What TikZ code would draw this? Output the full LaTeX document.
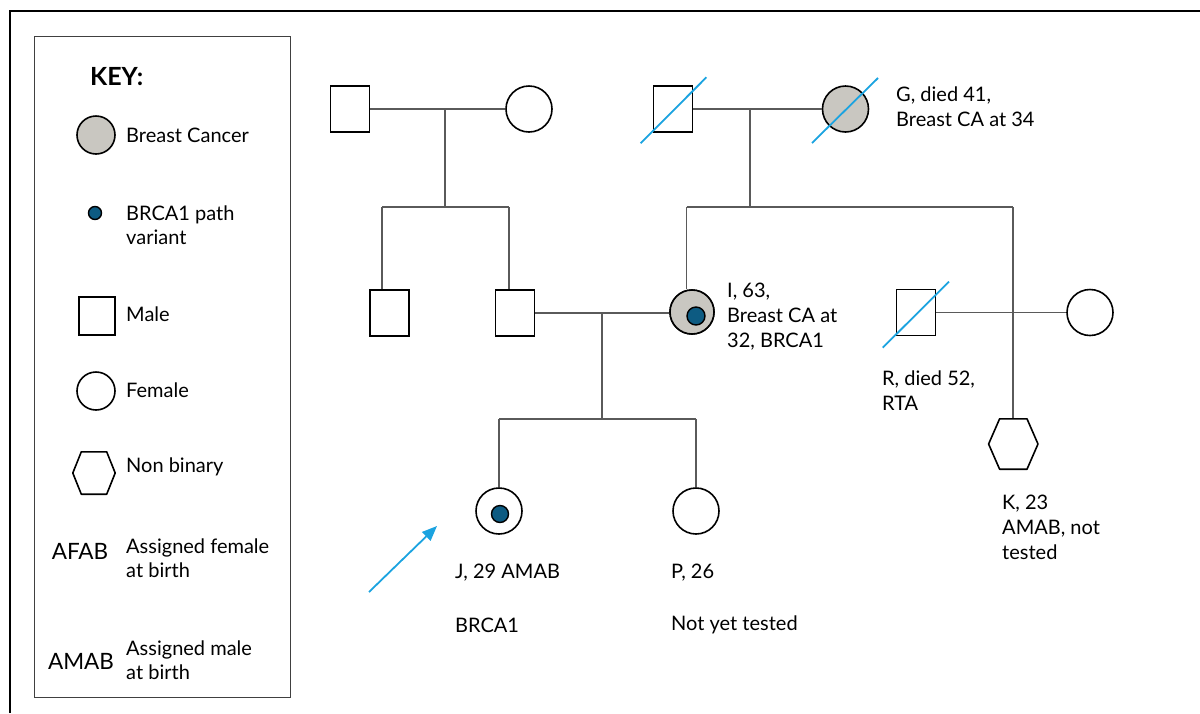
\documentclass[tikz,border=0pt]{standalone}
\usepackage{fontspec}
\setmainfont{Lato}
\usetikzlibrary{arrows.meta,calc}
\definecolor{cagrey}{HTML}{C9C7C1}
\definecolor{dotblue}{HTML}{0D5B82}
\definecolor{slashblue}{HTML}{1BA3E0}
\definecolor{linegrey}{HTML}{5A5A5A}
\tikzset{
  male/.style={draw=black,line width=1.6pt,rectangle,minimum width=39pt,minimum height=46pt,inner sep=0pt,fill=white},
  female/.style={draw=black,line width=1.6pt,circle,minimum size=46pt,inner sep=0pt,fill=white},
  affected/.style={fill=cagrey},
  brcadot/.style={draw=black,line width=1.4pt,circle,fill=dotblue,minimum size=#1,inner sep=0pt},
  hexbox/.style={rectangle,minimum width=#1,minimum height=#1,inner sep=0pt},
  hexline/.style={draw=black,line width=1.6pt,line join=round},
  conn/.style={draw=linegrey,line width=1.3pt},
  slash/.style={draw=slashblue,line width=1.8pt},
  lbl/.style={anchor=west,align=left,inner sep=0pt,font=\fontsize{20}{25}\selectfont},
  keylbl/.style={anchor=west,align=left,inner sep=0pt,font=\fontsize{20}{24.5}\selectfont},
  abbr/.style={anchor=center,inner sep=0pt,font=\fontsize{22.5}{26}\selectfont},
}
\begin{document}
\begin{tikzpicture}[x=1pt,y=-1pt]
\useasboundingbox (0,0) rectangle (1200,713);
% outer frame
\coordinate (fbl) at (10,713);
\coordinate (ftl) at (10,11);
\coordinate (ftr) at (1200,11);
\draw[line width=1.6pt] (fbl) -- (ftl) -- (ftr);

% ---------------- KEY ----------------
\node[draw=black!75,line width=1pt,rectangle,minimum width=256pt,minimum height=661pt,anchor=north west,inner sep=0pt] (keybox) at (34,36) {};
\node[anchor=west,inner sep=0pt,font=\fontsize{25}{28}\selectfont\bfseries] (keyt) at (90,77) {KEY:};
\node[female,affected,minimum size=38pt] (k1) at (96,135) {};
\node[keylbl] (k1t) at (126,135) {Breast Cancer};
\node[brcadot=13pt] (k2) at (95,213) {};
\node[keylbl] (k2t) at (126,225) {BRCA1 path\\variant};
\node[male,minimum width=36pt,minimum height=38pt] (k3) at (97,316) {};
\node[keylbl] (k3t) at (126,314) {Male};
\node[female,minimum size=38pt] (k4) at (96,391) {};
\node[keylbl] (k4t) at (126,390) {Female};
\node[hexbox=42pt] (k5) at (94,473) {};
\draw[hexline] (k5.west) -- ([xshift=8.5pt]k5.north west) -- ([xshift=-8.5pt]k5.north east) -- (k5.east) -- ([xshift=-8.5pt]k5.south east) -- ([xshift=8.5pt]k5.south west) -- cycle;
\node[keylbl] (k5t) at (126,467) {Non binary};
\node[abbr] (k6) at (80,551) {AFAB};
\node[keylbl] (k6t) at (126,558) {Assigned female\\at birth};
\node[abbr] (k7) at (81,661) {AMAB};
\node[keylbl] (k7t) at (126,660) {Assigned male\\at birth};

% ---------------- PEDIGREE ----------------
% Generation I
\node[male] (A) at (350,109) {};
\node[female] (B) at (529,109) {};
\node[male] (E) at (673,109) {};
\node[female,affected] (G) at (845.5,109) {};
% Generation II
\node[male] (C) at (389.5,313) {};
\node[male] (D) at (515,313) {};
\node[female,affected,minimum size=44pt] (I) at (692,312) {};
\node[brcadot=18pt] (Idot) at (696,316) {};
\node[male] (R) at (916,312.5) {};
\node[female] (S) at (1090,312.5) {};
% Generation III
\node[female] (J) at (499,511) {};
\node[brcadot=17pt] (Jdot) at (500,514) {};
\node[female] (P) at (696,511) {};
\node[hexbox=49pt,minimum height=50pt] (K) at (1013.3,444) {};

% coordinates for line junctions
\coordinate (m1) at (445,109);
\coordinate (s1) at (445,207);
\coordinate (s1l) at (382,207);
\coordinate (s1r) at (509,207);
\coordinate (m2) at (750,109);
\coordinate (s2) at (750,207);
\coordinate (s2l) at (686.5,207);
\coordinate (s2r) at (1013,207);
\coordinate (m3) at (602,313);
\coordinate (s3) at (602,419);
\coordinate (s3l) at (499,419);
\coordinate (s3r) at (696,419);
\coordinate (itop) at (686.5,289);

% marriage lines
\draw[conn] (A.east) -- (B.west);
\draw[conn] (E.east) -- (G.west);
\draw[conn] (D.east|-m3) -- (I.west|-m3);
\draw[conn] (R.east) -- (S.west);
% descent lines
\draw[conn] (m1) -- (s1);
\draw[conn] (s1l) -- (s1r);
\draw[conn] (s1l) -- (s1l|-C.north);
\draw[conn] (s1r) -- (s1r|-D.north);
\draw[conn] (m2) -- (s2);
\draw[conn] (s2l) -- (s2r);
\draw[conn] (s2l) -- (itop);
\draw[conn] (s2r) -- (K.north-|s2r);
\draw[conn] (m3) -- (s3);
\draw[conn] (s3l) -- (s3r);
\draw[conn] (s3l) -- (J.north);
\draw[conn] (s3r) -- (P.north);

% redraw shapes over lines
\node[female,affected,minimum size=44pt] at (I) {};
\node[brcadot=18pt] at (Idot) {};

% hexagon K
\draw[hexline,fill=white] (K.west) -- ([xshift=11pt]K.north west) -- ([xshift=-11pt]K.north east) -- (K.east) -- ([xshift=-11pt]K.south east) -- ([xshift=11pt]K.south west) -- cycle;

% deceased slashes
\coordinate (e1) at (640.6,143.3);
\coordinate (e2) at (706.4,77.3);
\draw[slash] (e1) -- (e2);
\coordinate (g1) at (812,143);
\coordinate (g2) at (878,78);
\draw[slash] (g1) -- (g2);
\coordinate (r1) at (882.7,347.7);
\coordinate (r2) at (949,281.7);
\draw[slash] (r1) -- (r2);

% proband arrow
\coordinate (arS) at (369,592);
\coordinate (arE) at (437,526);
\draw[draw=slashblue,line width=1.8pt,-{Triangle[length=15pt,width=12pt]}] (arS) -- (arE);

% labels
\node[lbl] (Gt) at (896,106.5) {G, died 41,\\Breast CA at 34};
\node[lbl] (It) at (727,317) {I, 63,\\Breast CA at\\32, BRCA1};
\node[lbl] (Rt) at (882,390.5) {R, died 52,\\RTA};
\node[lbl] (Kt) at (1002,527) {K, 23\\AMAB, not\\tested};
\node[lbl] (Jt1) at (455,573) {J, 29 AMAB};
\node[lbl] (Jt2) at (455,625) {BRCA1};
\node[lbl] (Pt1) at (671,573) {P, 26};
\node[lbl] (Pt2) at (671,625) {Not yet tested};
\end{tikzpicture}
\end{document}
